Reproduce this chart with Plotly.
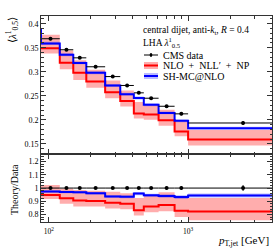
import plotly.graph_objects as go

# ---------------- data ----------------
bin_edges = [88, 120, 150, 186, 254, 326, 408, 481, 614, 800, 1000, 4000]
data_x = [103, 134, 167, 217, 288, 365, 443, 543, 701, 894, 2480]
cms_data = [0.3687, 0.3458, 0.3290, 0.3104, 0.2900, 0.2715, 0.2562, 0.2450, 0.2283, 0.2125, 0.1935]
cms_err = [0.003, 0.0025, 0.002, 0.002, 0.002, 0.002, 0.002, 0.002, 0.0025, 0.003, 0.004]

nlo_nll = [0.3490, 0.3190, 0.2980, 0.2800, 0.2575, 0.2390, 0.2130, 0.2110, 0.1990, 0.1760, 0.1590]
nlo_nll_hi = [0.3770, 0.3440, 0.3240, 0.3040, 0.2820, 0.2610, 0.2370, 0.2320, 0.2210, 0.1970, 0.1790]
nlo_nll_lo = [0.3380, 0.3050, 0.2830, 0.2670, 0.2450, 0.2280, 0.2030, 0.2000, 0.1880, 0.1660, 0.1465]

shmc = [0.3590, 0.3355, 0.3185, 0.2980, 0.2715, 0.2535, 0.2455, 0.2315, 0.2145, 0.1980, 0.1825]
shmc_hi = [0.3625, 0.3385, 0.3215, 0.3010, 0.2745, 0.2565, 0.2485, 0.2345, 0.2175, 0.2010, 0.1855]
shmc_lo = [0.3555, 0.3325, 0.3155, 0.2950, 0.2685, 0.2505, 0.2425, 0.2285, 0.2115, 0.1950, 0.1795]
shmc_prev = 0.391  # value of the preceding (out-of-range) bin

x_major = [100, 1000]
x_major_text = ["10<sup>2</sup>", "10<sup>3</sup>"]
x_minor = [200, 300, 400, 500, 600, 700, 800, 900, 2000, 3000, 4000]

# ---------------- styling ----------------
W, H = 280, 250
ML, MR, MT, MB = 41, 8, 16, 28
PW, PH = W - ML - MR, H - MT - MB
SERIF = "Liberation Serif, Times New Roman, serif"
RED = "#ff0000"
BLUE = "#0000ff"
RED_BAND = "rgba(255,0,0,0.32)"
BLUE_BAND = "rgba(50,50,255,0.33)"
AX = "#333333"


def px(x):
    return (x - ML) / PW


def py(y):
    return (H - MB - y) / PH


def step_y(vals):
    return list(vals) + [vals[-1]]


fig = go.Figure()


def add_band(lo, hi, color, xa, ya):
    fig.add_trace(go.Scatter(x=bin_edges, y=step_y(lo), mode="lines", line=dict(width=0, shape="hv"),
                             hoverinfo="skip", showlegend=False, xaxis=xa, yaxis=ya))
    fig.add_trace(go.Scatter(x=bin_edges, y=step_y(hi), mode="lines", line=dict(width=0, shape="hv"),
                             fill="tonexty", fillcolor=color, hoverinfo="skip", showlegend=False,
                             xaxis=xa, yaxis=ya))


def add_line(vals, color, xa, ya, prev=None):
    xs = list(bin_edges)
    ys = step_y(vals)
    if prev is not None:
        xs = [bin_edges[0]] + xs
        ys = [prev] + ys
    fig.add_trace(go.Scatter(x=xs, y=ys, mode="lines", line=dict(color=color, width=2, shape="hv"),
                             showlegend=False, xaxis=xa, yaxis=ya))


def add_data(yv, yerr, xa, ya):
    ex_plus = [bin_edges[i + 1] - data_x[i] for i in range(len(data_x))]
    ex_minus = [data_x[i] - bin_edges[i] for i in range(len(data_x))]
    fig.add_trace(go.Scatter(x=data_x, y=yv, mode="markers",
                             marker=dict(color="black", size=4),
                             error_x=dict(type="data", symmetric=False, array=ex_plus, arrayminus=ex_minus,
                                          color="black", thickness=1, width=0),
                             error_y=dict(type="data", array=yerr, color="black", thickness=1.2, width=0),
                             showlegend=False, xaxis=xa, yaxis=ya))


# top panel
add_band(nlo_nll_lo, nlo_nll_hi, RED_BAND, "x", "y")
add_band(shmc_lo, shmc_hi, BLUE_BAND, "x", "y")
add_line(nlo_nll, RED, "x", "y")
add_line(shmc, BLUE, "x", "y", prev=shmc_prev)
add_data(cms_data, cms_err, "x", "y")

# ratio panel
r_red = [a / d for a, d in zip(nlo_nll, cms_data)]
r_red_hi = [a / d for a, d in zip(nlo_nll_hi, cms_data)]
r_red_lo = [a / d for a, d in zip(nlo_nll_lo, cms_data)]
r_blue = [a / d for a, d in zip(shmc, cms_data)]
r_blue_hi = [a / d for a, d in zip(shmc_hi, cms_data)]
r_blue_lo = [a / d for a, d in zip(shmc_lo, cms_data)]
r_data = [1.0 for _ in cms_data]
r_err = [e / d for e, d in zip(cms_err, cms_data)]

add_band(r_red_lo, r_red_hi, RED_BAND, "x2", "y2")
add_band(r_blue_lo, r_blue_hi, BLUE_BAND, "x2", "y2")
add_line(r_red, RED, "x2", "y2")
add_line(r_blue, BLUE, "x2", "y2")
add_data(r_data, r_err, "x2", "y2")

split = (H - MB - 154) / PH

common_x = dict(type="log", range=[1.94448, 3.60206], showline=True, linecolor=AX, linewidth=1,
                mirror="allticks", ticks="inside", ticklen=5, tickcolor=AX, tickvals=x_major,
                showgrid=False, zeroline=False,
                minor=dict(tickmode="array", tickvals=x_minor, ticks="inside", ticklen=2.5, tickcolor=AX,
                           showgrid=False))

fig.update_layout(
    width=W, height=H, margin=dict(l=ML, r=MR, t=MT, b=MB),
    paper_bgcolor="white", plot_bgcolor="white", showlegend=False,
    font=dict(family=SERIF, color="black", size=8),
    xaxis=dict(common_x, anchor="y", showticklabels=False, matches="x2"),
    xaxis2=dict(common_x, anchor="y2", ticktext=x_major_text, showticklabels=True,
                tickfont=dict(size=7.5, family=SERIF), ticklabelstandoff=2),
    yaxis=dict(domain=[split, 1], range=[0.129, 0.416], showline=True, linecolor=AX, linewidth=1,
               mirror="allticks", ticks="inside", ticklen=5, tickcolor=AX, tickmode="linear", tick0=0,
               dtick=0.05, showgrid=False, zeroline=False, tickfont=dict(size=8, family=SERIF),
               minor=dict(tickmode="linear", tick0=0, dtick=0.01, ticks="inside", ticklen=2.5,
                          tickcolor=AX, showgrid=False), anchor="x"),
    yaxis2=dict(domain=[0, split], range=[0.743, 1.258], showline=True, linecolor=AX, linewidth=1,
                mirror="allticks", ticks="inside", ticklen=5, tickcolor=AX, tickmode="linear", tick0=0,
                dtick=0.1, showgrid=False, zeroline=False, tickfont=dict(size=8, family=SERIF),
                minor=dict(tickmode="linear", tick0=0, dtick=0.02, ticks="inside", ticklen=2.5,
                           tickcolor=AX, showgrid=False), anchor="x2"),
)

ann = []


def text(x, y, s, size, xanchor="left", angle=0):
    ann.append(dict(x=px(x), y=py(y), xref="paper", yref="paper", text=s, showarrow=False,
                    xanchor=xanchor, yanchor="middle", textangle=angle,
                    font=dict(family=SERIF, size=size, color="black")))


text(141, 31, "central dijet, anti-<i>k</i><sub>t</sub>, <i>R</i> = 0.4", 9.5)
text(141, 42, "LHA <i>λ</i><sup>1</sup><sub>0.5</sub>", 9.5)
text(161, 55, "CMS data", 10)
text(161, 65.5, "NLO\u2002+\u2002NLL\u2032\u2002+\u2002NP", 10)
text(161, 76, "SH-MC@NLO", 10)
text(12, 30, "⟨<i>λ</i><sup>1</sup><sub>0.5</sub>⟩", 11, xanchor="center", angle=-90)
text(14, 190, "Theory/Data", 10, xanchor="center", angle=-90)
text(271, 241, "<i>p</i><sub>T,jet</sub> [GeV]", 11, xanchor="right")
fig.update_layout(annotations=ann)

# legend glyphs
shapes = []
gx0, gx1 = 144, 158
shapes.append(dict(type="line", xref="paper", yref="paper", x0=px(gx0), x1=px(gx1), y0=py(55), y1=py(55),
                   line=dict(color="black", width=1)))
shapes.append(dict(type="line", xref="paper", yref="paper", x0=px(151), x1=px(151), y0=py(53), y1=py(57),
                   line=dict(color="black", width=1.2)))
shapes.append(dict(type="circle", xref="paper", yref="paper", x0=px(149.6), x1=px(152.4), y0=py(56.4),
                   y1=py(53.6), fillcolor="black", line=dict(color="black", width=0)))
shapes.append(dict(type="rect", xref="paper", yref="paper", x0=px(gx0), x1=px(gx1), y0=py(69), y1=py(62),
                   fillcolor=RED_BAND, line=dict(width=0)))
shapes.append(dict(type="line", xref="paper", yref="paper", x0=px(gx0), x1=px(gx1), y0=py(65.5), y1=py(65.5),
                   line=dict(color=RED, width=2)))
shapes.append(dict(type="rect", xref="paper", yref="paper", x0=px(gx0), x1=px(gx1), y0=py(79), y1=py(73),
                   fillcolor=BLUE_BAND, line=dict(width=0)))
shapes.append(dict(type="line", xref="paper", yref="paper", x0=px(gx0), x1=px(gx1), y0=py(76), y1=py(76),
                   line=dict(color=BLUE, width=2)))
fig.update_layout(shapes=shapes)

fig.write_html("out.html", config={"displayModeBar": False},
               post_script="document.body.style.margin='0';document.body.style.overflow='hidden';")
